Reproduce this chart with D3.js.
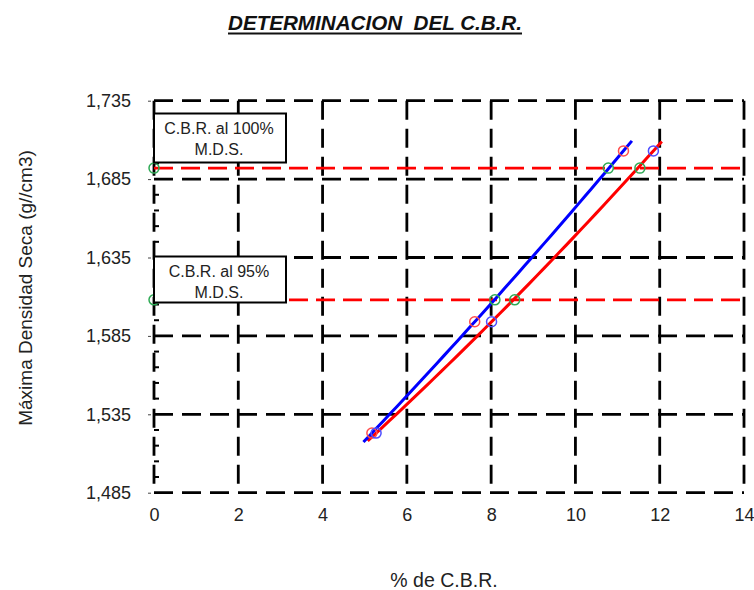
<!DOCTYPE html>
<html>
<head>
<meta charset="utf-8">
<script src="https://cdn.jsdelivr.net/npm/d3@7"></script>
<style>
  html, body { margin: 0; padding: 0; background: #fff; }
  svg { display: block; font-family: Arial, "Liberation Sans", sans-serif; }
</style>
</head>
<body>
<svg id="chart" width="754" height="590"></svg>
<script>
// ---- data ----
const title = "DETERMINACION  DEL C.B.R.";
const xTitle = "% de C.B.R.";
const yTitle = "Máxima Densidad Seca (g//cm3)";
const xTicks = [0, 2, 4, 6, 8, 10, 12, 14];
const yTicks = [1.485, 1.535, 1.585, 1.635, 1.685, 1.735];
const densities = [1.523, 1.594, 1.703];       // dry density of specimens
const cbrRed = [5.17, 7.61, 11.14];            // red markers (CBR %)
const cbrBlue = [5.27, 8.01, 11.85];           // blue markers (CBR %)
const mds = [1.692, 1.608];                    // 100% and 95% M.D.S.
const mdsLabels = [["C.B.R. al 100%", "M.D.S."], ["C.B.R. al 95%", "M.D.S."]];
const greenX = [0, 10.78, 11.53, 0, 8.09, 8.56];
const greenY = [1.692, 1.692, 1.692, 1.608, 1.608, 1.608];
const trendExtend = 0.2;

// ---- layout ----
const svg = d3.select("#chart");
const x = d3.scaleLinear().domain([0, 14]).range([154, 744]);
const y = d3.scaleLinear().domain([1.485, 1.735]).range([492.7, 100.7]);
const fmt = v => d3.format(".3f")(v).replace(".", ",");

// title
const t = svg.append("text")
  .attr("x", 375).attr("y", 30)
  .attr("text-anchor", "middle")
  .attr("font-size", 19.5).attr("font-weight", "bold").attr("font-style", "italic")
  .attr("fill", "#111")
  .attr("textLength", 294).attr("lengthAdjust", "spacingAndGlyphs")
  .style("white-space", "pre")
  .text(title);
svg.append("line")
  .attr("x1", 375 - 147).attr("x2", 375 + 147)
  .attr("y1", 33.5).attr("y2", 33.5)
  .attr("stroke", "#111").attr("stroke-width", 1.8);

// grid
const grid = svg.append("g").attr("stroke", "#000").attr("stroke-width", 2.8)
  .attr("stroke-dasharray", "19,9").attr("fill", "none");
grid.selectAll("line.v").data(xTicks).join("line").attr("class", "v")
  .attr("x1", d => x(d)).attr("x2", d => x(d))
  .attr("y1", y(1.735)).attr("y2", y(1.485));
grid.selectAll("line.h").data(yTicks).join("line").attr("class", "h")
  .attr("x1", x(0)).attr("x2", x(14))
  .attr("y1", d => y(d)).attr("y2", d => y(d));

// minor ticks inside left axis
const minor = d3.range(1.485, 1.7351, 0.01).filter(v => Math.abs(((v - 1.485) / 0.05) - Math.round((v - 1.485) / 0.05)) > 1e-6);
svg.append("g").selectAll("line").data(minor).join("line")
  .attr("x1", x(0)).attr("x2", x(0) + 5)
  .attr("y1", d => y(d)).attr("y2", d => y(d))
  .attr("stroke", "#000").attr("stroke-width", 2);

// y axis
const ya = svg.append("g").attr("transform", "translate(151,0)")
  .call(d3.axisLeft(y).tickValues(yTicks).tickSize(3).tickPadding(17).tickFormat(fmt));
ya.select(".domain").remove();
ya.selectAll("text").attr("font-size", 18).attr("fill", "#222").attr("font-family", "Arial, 'Liberation Sans', sans-serif");
ya.selectAll("line").attr("stroke", "#444");

// x axis
const xa = svg.append("g").attr("transform", "translate(0,492.7)")
  .call(d3.axisBottom(x).tickValues(xTicks).tickSize(0).tickPadding(16));
xa.select(".domain").remove();
xa.selectAll("text").attr("font-size", 18).attr("fill", "#222").attr("font-family", "Arial, 'Liberation Sans', sans-serif");

// axis titles
svg.append("text").attr("x", 444).attr("y", 587).attr("text-anchor", "middle")
  .attr("font-size", 19.5).attr("fill", "#222").text(xTitle);
svg.append("text").attr("transform", "translate(32,288) rotate(-90)")
  .attr("text-anchor", "middle").attr("font-size", 19).attr("fill", "#222").text(yTitle);

// MDS lines
svg.append("g").selectAll("line").data(mds).join("line")
  .attr("x1", x(0)).attr("x2", x(14))
  .attr("y1", d => y(d)).attr("y2", d => y(d))
  .attr("stroke", "#ff0000").attr("stroke-width", 2.6).attr("stroke-dasharray", "19,8");

// quadratic trendline helper
function quadFit(xs, ys) {
  const n = xs.length;
  let S = [[0,0,0],[0,0,0],[0,0,0]], B = [0,0,0];
  for (let i = 0; i < n; i++) {
    const p = [1, xs[i], xs[i]*xs[i]];
    for (let r = 0; r < 3; r++) { B[r] += p[r]*ys[i]; for (let c = 0; c < 3; c++) S[r][c] += p[r]*p[c]; }
  }
  for (let i = 0; i < 3; i++) {
    for (let k = i+1; k < 3; k++) {
      const f = S[k][i] / S[i][i];
      for (let c = i; c < 3; c++) S[k][c] -= f*S[i][c];
      B[k] -= f*B[i];
    }
  }
  const a = [0,0,0];
  for (let i = 2; i >= 0; i--) {
    let s = B[i];
    for (let c = i+1; c < 3; c++) s -= S[i][c]*a[c];
    a[i] = s / S[i][i];
  }
  return v => a[0] + a[1]*v + a[2]*v*v;
}
const line = d3.line().x(d => x(d[0])).y(d => y(d[1]));
function trend(xs, color) {
  const f = quadFit(xs, densities);
  const x0 = d3.min(xs) - trendExtend, x1 = d3.max(xs) + trendExtend;
  const pts = d3.range(0, 41).map(i => { const v = x0 + (x1 - x0) * i / 40; return [v, f(v)]; });
  svg.append("path").datum(pts).attr("d", line)
    .attr("fill", "none").attr("stroke", color).attr("stroke-width", 3);
}
trend(cbrBlue, "#ff0000");
trend(cbrRed, "#0000ff");

// markers
function markers(xs, ys, color) {
  svg.append("g").selectAll("circle").data(xs.map((v, i) => [v, ys[i]])).join("circle")
    .attr("cx", d => x(d[0])).attr("cy", d => y(d[1])).attr("r", 5)
    .attr("fill", "none").attr("stroke", color).attr("stroke-width", 1.5);
}
markers(cbrRed, densities, "#ff4d4d");
markers(cbrBlue, densities, "#4d4dff");
markers(greenX, greenY, "#2eaa55");

// label boxes
const boxes = [{y0: 113.5, h: 49}, {y0: 256.5, h: 46}];
boxes.forEach((b, i) => {
  const g = svg.append("g");
  g.append("rect").attr("x", 154).attr("y", b.y0).attr("width", 132).attr("height", b.h)
    .attr("fill", "#fff").attr("stroke", "#000").attr("stroke-width", 2);
  mdsLabels[i].forEach((s, j) => {
    g.append("text").attr("x", 219).attr("y", b.y0 + 20.5 + j * 20.5)
      .attr("text-anchor", "middle").attr("font-size", 16).attr("fill", "#222").text(s);
  });
});
</script>
</body>
</html>
